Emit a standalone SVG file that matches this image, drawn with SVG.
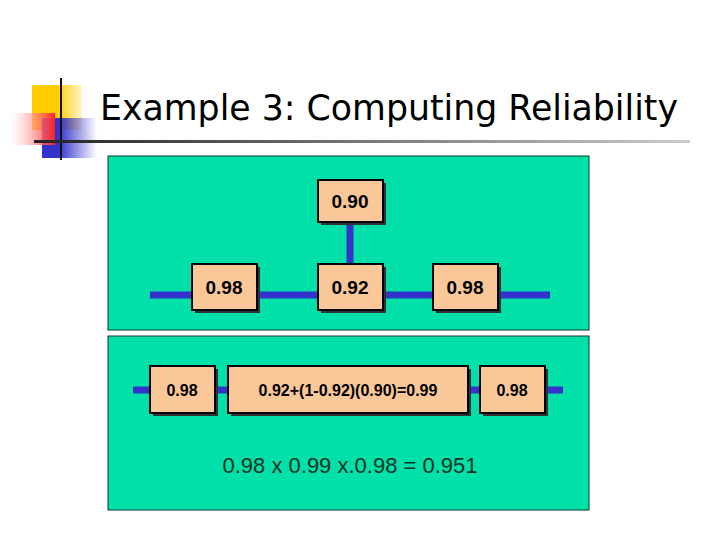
<svg xmlns="http://www.w3.org/2000/svg" width="720" height="540" viewBox="0 0 720 540">
<defs>
<linearGradient id="ln" x1="0" x2="1"><stop offset="0" stop-color="#222"/><stop offset="1" stop-color="#ccc"/></linearGradient>
<linearGradient id="rd" x1="1" x2="0"><stop offset="0" stop-color="#f22"/><stop offset="1" stop-color="#fff" stop-opacity="0.3"/></linearGradient>
<linearGradient id="bl" x1="0" x2="1"><stop offset="0.3" stop-color="#33c"/><stop offset="1" stop-color="#33c" stop-opacity="0"/></linearGradient>
<linearGradient id="yl" x1="0" x2="1"><stop offset="0.5" stop-color="#fc0"/><stop offset="1" stop-color="#fc0" stop-opacity="0.2"/></linearGradient>
</defs>
<style>
.panel{fill:#00e0a8;stroke:#0a3a2a;stroke-width:1}
.box{fill:#fac898;stroke:#000;stroke-width:2}
.sh{fill:#333}
.t{font-family:"Liberation Sans",Arial,sans-serif;font-weight:bold;font-size:19px;text-anchor:middle}
.ts{font-family:"Liberation Sans",Arial,sans-serif;font-weight:bold;font-size:16px;text-anchor:middle}
.w{stroke:#3333cc;stroke-width:7;fill:none}
</style>
<g id="logo">
<rect x="32" y="85" width="50" height="45" fill="url(#yl)"/>
<rect x="42" y="118" width="55" height="40" fill="url(#bl)"/>
<rect x="10" y="113" width="45" height="32" fill="url(#rd)"/>
<line x1="61" y1="78" x2="61" y2="160" stroke="#111" stroke-width="2"/>
<rect x="34" y="140" width="656" height="3" fill="url(#ln)"/>
</g>
<text id="title" x="100" y="120" font-family="DejaVu Sans,Verdana,sans-serif" font-size="36" textLength="578" lengthAdjust="spacingAndGlyphs">Example 3: Computing Reliability</text>
<rect id="top-panel" class="panel" x="108" y="156" width="481" height="174"/>
<rect id="bottom-panel" class="panel" x="108" y="336" width="481" height="174"/>
<g id="connectors">
<line class="w" x1="150" y1="295" x2="550" y2="295"/>
<line class="w" x1="350" y1="222" x2="350" y2="264"/>
<line class="w" x1="133" y1="390" x2="563" y2="390"/>
</g>
<g id="n090"><rect class="sh" x="321" y="183" width="65" height="42"/><rect class="box" x="318" y="180" width="65" height="42"/><text class="t" x="350" y="208">0.90</text></g>
<g id="n098a"><rect class="sh" x="195" y="267" width="65" height="46"/><rect class="box" x="192" y="264" width="65" height="46"/><text class="t" x="224" y="294">0.98</text></g>
<g id="n092"><rect class="sh" x="321" y="267" width="65" height="46"/><rect class="box" x="318" y="264" width="65" height="46"/><text class="t" x="350" y="294">0.92</text></g>
<g id="n098b"><rect class="sh" x="436" y="267" width="65" height="46"/><rect class="box" x="433" y="264" width="65" height="46"/><text class="t" x="465" y="294">0.98</text></g>
<g id="b098a"><rect class="sh" x="153" y="369" width="65" height="47"/><rect class="box" x="150" y="366" width="65" height="47"/><text class="ts" x="182" y="396">0.98</text></g>
<g id="bmid"><rect class="sh" x="231" y="369" width="240" height="47"/><rect class="box" x="228" y="366" width="240" height="47"/><text class="ts" x="348" y="396">0.92+(1-0.92)(0.90)=0.99</text></g>
<g id="b098b"><rect class="sh" x="483" y="369" width="65" height="47"/><rect class="box" x="480" y="366" width="65" height="47"/><text class="ts" x="512" y="396">0.98</text></g>
<text x="350" y="473" font-family="Liberation Sans,Arial,sans-serif" font-size="22" text-anchor="middle" fill="#113322">0.98 x 0.99 x.0.98 = 0.951</text>
</svg>
